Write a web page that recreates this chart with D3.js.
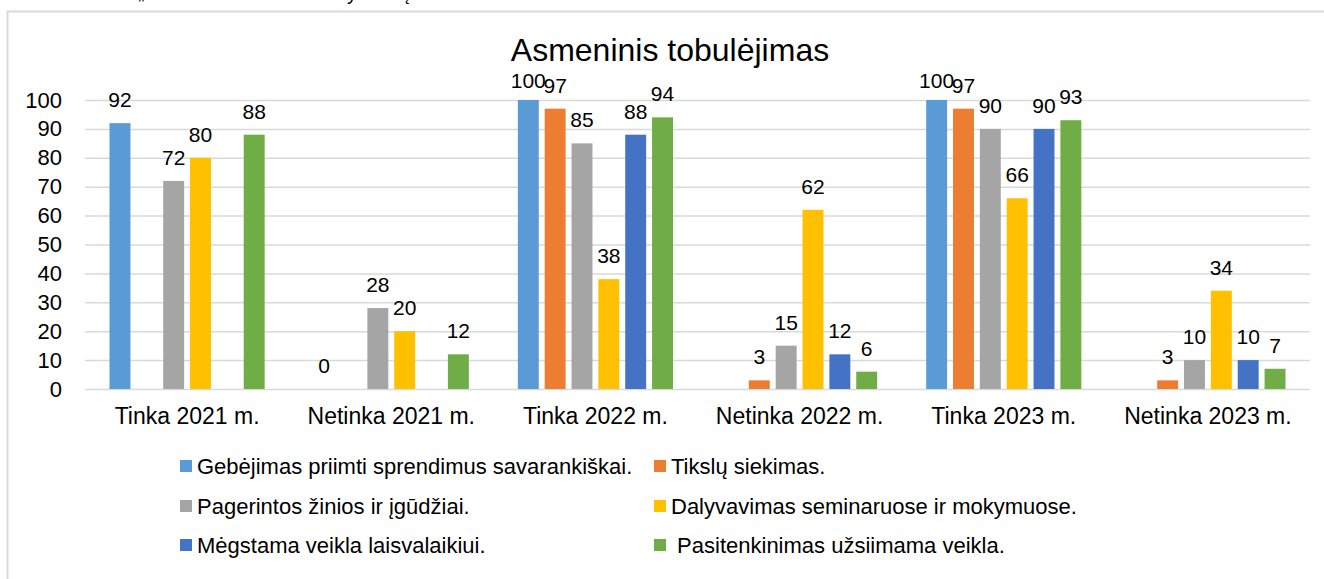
<!DOCTYPE html>
<html>
<head>
<meta charset="utf-8">
<script src="https://cdn.jsdelivr.net/npm/d3@7"></script>
<style>
  body { margin: 0; background: #fff; }
  text { font-family: "Liberation Sans", Arial, sans-serif; fill: #000; }
</style>
</head>
<body>
<div id="vis"></div>
<script>
var width = 1324;
var height = 579;

// data
var categories = ["Tinka 2021 m.", "Netinka 2021 m.", "Tinka 2022 m.", "Netinka 2022 m.", "Tinka 2023 m.", "Netinka 2023 m."];
var seriesNames = [
  "Gebėjimas priimti sprendimus savarankiškai.",
  "Tikslų siekimas.",
  "Pagerintos žinios ir įgūdžiai.",
  "Dalyvavimas seminaruose ir mokymuose.",
  "Mėgstama veikla laisvalaikiui.",
  " Pasitenkinimas užsiimama veikla."
];
var colors = ["#5B9BD5", "#ED7D31", "#A5A5A5", "#FFC000", "#4472C4", "#70AD47"];
var gebejimas = [92, 0, 100, null, 100, null];
var tikslu = [null, null, 97, 3, 97, 3];
var zinios = [72, 28, 85, 15, 90, 10];
var dalyvavimas = [80, 20, 38, 62, 66, 34];
var megstama = [null, null, 88, 12, 90, 10];
var pasitenkinimas = [88, 12, 94, 6, 93, 7];
var seriesValues = [gebejimas, tikslu, zinios, dalyvavimas, megstama, pasitenkinimas];
var yTicks = [0, 10, 20, 30, 40, 50, 60, 70, 80, 90, 100];

var svg = d3.select("#vis")
  .append("svg")
  .attr("width", width)
  .attr("height", height)
  .style("background-color", "white");

// cut-off line of document text above the chart
svg.append("text").attr("x", 138).attr("y", -1).style("font-size", "20px").text("„");
svg.append("text").attr("x", 347).attr("y", 0).style("font-size", "20px").text("y");
svg.append("text").attr("x", 399).attr("y", 0).style("font-size", "20px").text("ų");

// chart frame
svg.append("rect")
  .attr("x", 7.5).attr("y", 11.5)
  .attr("width", 1340).attr("height", 620)
  .attr("fill", "none")
  .attr("stroke", "#d9d9d9")
  .attr("stroke-width", 2);

var x0 = d3.scaleBand()
  .domain(categories)
  .range([85, 1310])
  .paddingInner(0.24)
  .paddingOuter(0.12);

var x1 = d3.scaleBand()
  .domain(d3.range(seriesNames.length))
  .range([0, x0.bandwidth()])
  .paddingInner(0.22);

var y = d3.scaleLinear()
  .domain([0, 100])
  .range([389, 100]);

// grid
var yAxis = d3.axisLeft(y)
  .tickValues(yTicks)
  .tickSize(-(1310 - 85))
  .tickPadding(23);

var gy = svg.append("g")
  .attr("transform", "translate(85,0)")
  .call(yAxis);
gy.select(".domain").remove();
gy.selectAll("line").attr("stroke", "#d9d9d9").attr("stroke-width", 1.5);
gy.selectAll("text").style("font-size", "22px").attr("fill", "#000")
  .style("font-family", "Liberation Sans, Arial, sans-serif");

// x labels
var xAxis = d3.axisBottom(x0).tickSize(0).tickPadding(19);
var gx = svg.append("g")
  .attr("transform", "translate(0,389)")
  .call(xAxis);
gx.select(".domain").remove();
gx.selectAll("text").style("font-size", "23px").attr("fill", "#000")
  .style("font-family", "Liberation Sans, Arial, sans-serif");

// title
svg.append("text")
  .attr("x", 670).attr("y", 61)
  .attr("text-anchor", "middle")
  .style("font-size", "32px")
  .text("Asmeninis tobulėjimas");

// bars
var rows = [];
seriesValues.forEach(function(vals, s) {
  vals.forEach(function(v, c) {
    if (v !== null) rows.push({ s: s, c: categories[c], v: v });
  });
});

var groups = svg.append("g");
groups.selectAll("rect")
  .data(rows)
  .join("rect")
  .attr("x", d => x0(d.c) + x1(d.s))
  .attr("y", d => y(d.v))
  .attr("width", x1.bandwidth())
  .attr("height", d => y(0) - y(d.v))
  .attr("fill", d => colors[d.s]);

// labels sit above the bars, but not above the plot area top
groups.selectAll("text")
  .data(rows)
  .join("text")
  .attr("x", d => x0(d.c) + x1(d.s) + x1.bandwidth() / 2)
  .attr("y", d => Math.max(y(d.v) - 16, 88))
  .attr("text-anchor", "middle")
  .style("font-size", "21px")
  .text(d => d.v);

// legend
var legendPos = [[180, 466], [654, 466], [180, 506], [654, 506], [180, 545], [654, 545]];
var legend = svg.append("g")
  .selectAll("g")
  .data(seriesNames)
  .join("g")
  .attr("transform", (d, i) => `translate(${legendPos[i][0]}, ${legendPos[i][1]})`);

legend.append("rect")
  .attr("x", 0).attr("y", -6)
  .attr("width", 12).attr("height", 12)
  .attr("fill", (d, i) => colors[i]);

legend.append("text")
  .attr("x", 17).attr("y", 8)
  .style("font-size", "22px")
  .style("white-space", "pre")
  .text(d => d);
</script>
</body>
</html>
